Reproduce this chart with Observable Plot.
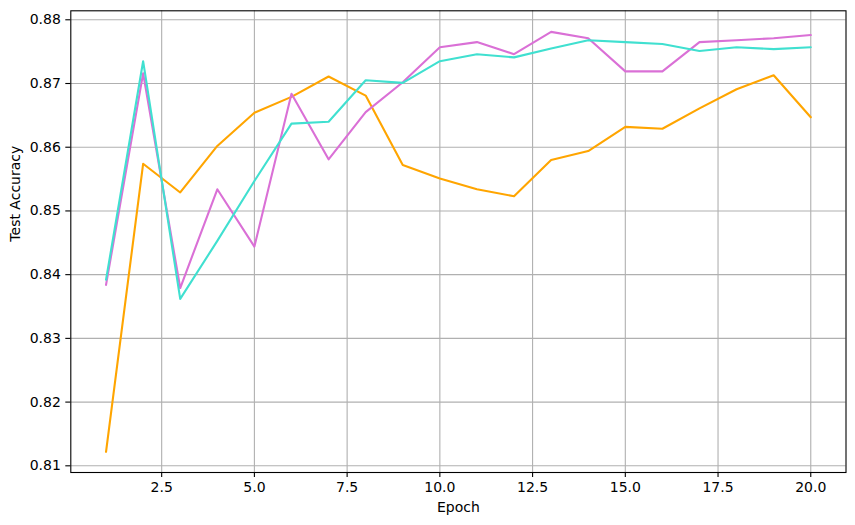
<!DOCTYPE html>
<html>
<head>
<meta charset="utf-8">
<script src="https://cdn.jsdelivr.net/npm/d3@7"></script>
<script src="https://cdn.jsdelivr.net/npm/@observablehq/plot@0.6"></script>
<style>
  html, body { margin: 0; padding: 0; background: white; }
</style>
</head>
<body>
<div id="chart"></div>
<script>
const epochs = [1,2,3,4,5,6,7,8,9,10,11,12,13,14,15,16,17,18,19,20];
const seriesOrange = [0.8122,0.8574,0.8529,0.8602,0.8654,0.8679,0.8711,0.8681,0.8572,0.8551,0.8534,0.8523,0.8580,0.8594,0.8632,0.8629,0.8661,0.8691,0.8713,0.8647];
const seriesTurquoise = [0.8392,0.8735,0.8362,0.8453,0.8547,0.8637,0.8640,0.8705,0.8701,0.8735,0.8746,0.8741,0.8755,0.8768,0.8765,0.8762,0.8751,0.8757,0.8754,0.8757];
const seriesOrchid = [0.8384,0.8716,0.8379,0.8534,0.8444,0.8684,0.8581,0.8655,0.8702,0.8757,0.8765,0.8746,0.8781,0.8771,0.8719,0.8719,0.8765,0.8768,0.8771,0.8776];
const seriesColors = ["orange", "orchid", "turquoise"];
const xTicks = [2.5,5.0,7.5,10.0,12.5,15.0,17.5,20.0];
const yTicks = [0.81,0.82,0.83,0.84,0.85,0.86,0.87,0.88];
const xLabel = "Epoch";
const yLabel = "Test Accuracy";

const toRows = (vals) => epochs.map((e, i) => ({epoch: e, acc: vals[i]}));
const allSeries = [seriesOrange, seriesOrchid, seriesTurquoise];

const chart = Plot.plot({
  width: 855,
  height: 525,
  marginLeft: 70.3,
  marginRight: 9.5,
  marginTop: 10.3,
  marginBottom: 53,
  style: {fontFamily: "DejaVu Sans", fontSize: "14px", background: "white", color: "black"},
  x: {domain: [0.05, 20.95]},
  y: {domain: [0.80895, 0.88141]},
  marks: [
    Plot.gridX(xTicks, {stroke: "#b0b0b0", strokeOpacity: 1, strokeWidth: 1.1}),
    Plot.gridY(yTicks, {stroke: "#b0b0b0", strokeOpacity: 1, strokeWidth: 1.1}),
    ...allSeries.map((s, i) => Plot.line(toRows(s), {x: "epoch", y: "acc", stroke: seriesColors[i], strokeWidth: 2.1})),
    Plot.frame({stroke: "black", strokeWidth: 1.1}),
    Plot.axisX(xTicks, {tickSize: 5, tickPadding: 5, fontSize: 14, tickFormat: d3.format(".1f"), label: null, strokeWidth: 1.1}),
    Plot.axisY(yTicks, {tickSize: 5, tickPadding: 5, fontSize: 14, tickFormat: d3.format(".2f"), label: null, strokeWidth: 1.1}),
    Plot.text([xLabel], {text: d => d, frameAnchor: "bottom", lineAnchor: "bottom", dy: 39, fontSize: 14}),
    Plot.text([yLabel], {text: d => d, frameAnchor: "left", rotate: -90, dx: -55, fontSize: 14})
  ]
});
document.getElementById("chart").appendChild(chart);
</script>
</body>
</html>
